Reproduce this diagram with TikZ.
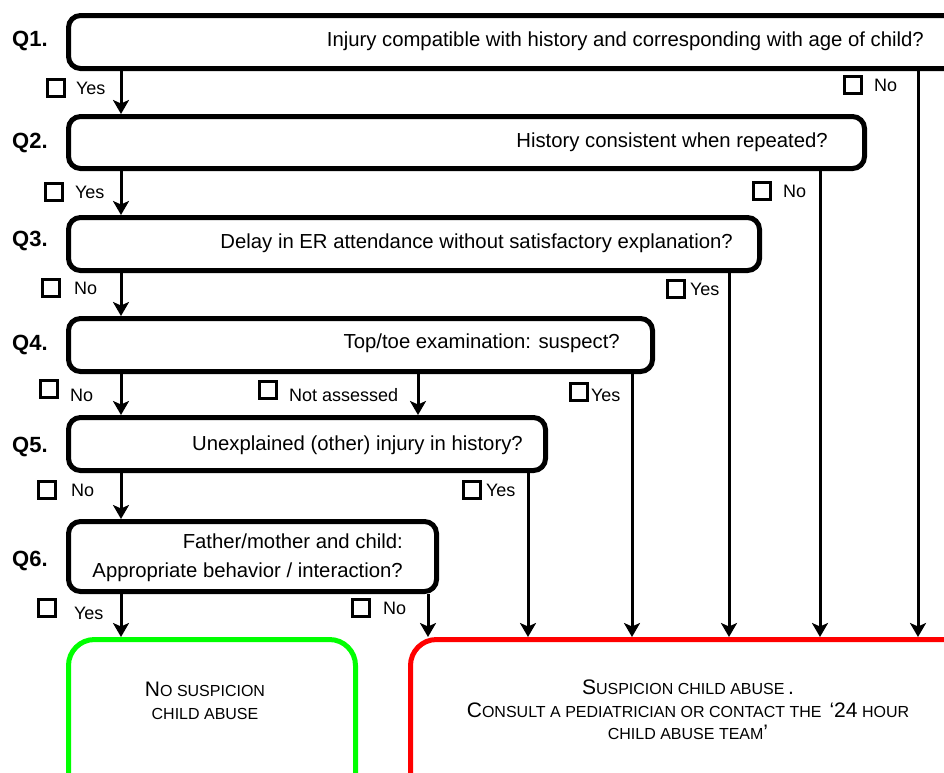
\documentclass[tikz,border=0pt]{standalone}
\usepackage{fontspec}
\setmainfont{Liberation Sans}
\usetikzlibrary{arrows.meta,positioning}
\tikzstyle{question}=[draw,line width=5pt,rounded corners=12pt,anchor=north west,inner sep=0pt]
\tikzstyle{qlabel}=[font=\fontsize{22}{24}\selectfont\bfseries,anchor=west,inner sep=0pt]
\tikzstyle{qtext}=[font=\fontsize{20.3}{29}\selectfont,anchor=east,inner sep=0pt,align=right]
\tikzstyle{check}=[draw,line width=3.2pt,minimum size=16.5pt,inner sep=0pt]
\tikzstyle{answer}=[font=\fontsize{18}{20}\selectfont,inner sep=0pt,anchor=west]
\tikzstyle{outcome}=[line width=5pt,rounded corners=26pt,anchor=north west,inner sep=0pt]
\tikzstyle{verdict}=[font=\fontsize{16}{22.5}\selectfont,align=center,inner sep=0pt]
\tikzstyle{flow}=[line width=3pt,-{Stealth[length=14pt,width=16pt,inset=3.5pt]}]
\newcommand{\capbig}[1]{{\fontsize{21}{22.5}\selectfont #1}}
\newcommand{\capsmall}[1]{{\fontsize{16}{22.5}\selectfont #1}}
\begin{document}
\begin{tikzpicture}[x=1pt,y=-1pt]
\useasboundingbox (0,0) rectangle (944,772);

% QUESTION BOXES

\node[question,minimum width=894pt,minimum height=53pt] (q1) at (66,13) {};
\node[question,minimum width=796pt,minimum height=52pt] (q2) at (66,114) {};
\node[question,minimum width=691pt,minimum height=53pt] (q3) at (66,215) {};
\node[question,minimum width=584pt,minimum height=53pt] (q4) at (66,316) {};
\node[question,minimum width=477pt,minimum height=53pt] (q5) at (66,415) {};
\node[question,minimum width=368pt,minimum height=70pt] (q6) at (66,519) {};

\node[qlabel] (lq1) at (12,41) {Q1.};
\node[qlabel] (lq2) at (12,143) {Q2.};
\node[qlabel] (lq3) at (12,241) {Q3.};
\node[qlabel] (lq4) at (12,345) {Q4.};
\node[qlabel] (lq5) at (12,447) {Q5.};
\node[qlabel] (lq6) at (12,561) {Q6.};

\node[qtext] (tq1) at (924,41) {Injury compatible with history and corresponding with age of child?};
\node[qtext] (tq2) at (828,142) {History consistent when repeated?};
\node[qtext] (tq3) at (733,243) {Delay in ER attendance without satisfactory explanation?};
\node[qtext] (tq4) at (620,343) {Top/toe examination: suspect?};
\node[qtext] (tq5) at (523,445) {Unexplained (other) injury in history?};
\node[qtext] (tq6) at (403,558) {Father/mother and child:\\Appropriate behavior / interaction?};

% OUTCOMES

\node[outcome,draw=green,minimum width=287pt,minimum height=160pt] (nosusp) at (66,637) {};
\node[outcome,draw=red,minimum width=560pt,minimum height=160pt] (susp) at (408,637) {};

\node[verdict] (tnosusp) at (205,701)
  {\capbig{N}\capsmall{O SUSPICION}\\\capsmall{CHILD ABUSE}};
\node[verdict] (tsusp) at (688,710)
  {\capbig{S}\capsmall{USPICION CHILD ABUSE}\capbig{\,.}\\
   \capbig{C}\capsmall{ONSULT A PEDIATRICIAN OR CONTACT THE} \capbig{\,`24} \capsmall{HOUR}\\
   \capsmall{CHILD ABUSE TEAM}\capbig{'}};

% ANSWERS

\node[check] (c1y) at (56,88) {};
\node[answer,right=10pt of c1y] {Yes};
\node[check] (c1n) at (853,85) {};
\node[answer,right=11pt of c1n] {No};

\node[check] (c2y) at (54,192) {};
\node[answer,right=11pt of c2y] {Yes};
\node[check] (c2n) at (762,191) {};
\node[answer,right=11pt of c2n] {No};

\node[check] (c3n) at (51,288) {};
\node[answer,right=13pt of c3n] {No};
\node[check] (c3y) at (676,289) {};
\node[answer,right=4pt of c3y] {Yes};

\node[check] (c4n) at (49,389) {};
\node[answer,right=11pt of c4n,yshift=-6pt] {No};
\node[check] (c4x) at (268,390) {};
\node[answer,right=11pt of c4x,yshift=-5pt] {Not assessed};
\node[check] (c4y) at (579,392) {};
\node[answer,right=2pt of c4y,yshift=-3pt] {Yes};

\node[check] (c5n) at (47,490) {};
\node[answer,right=14pt of c5n] {No};
\node[check] (c5y) at (472,490) {};
\node[answer,right=4pt of c5y] {Yes};

\node[check] (c6y) at (47,608) {};
\node[answer,right=17pt of c6y,yshift=-5pt] {Yes};
\node[check] (c6n) at (361,608) {};
\node[answer,right=12pt of c6n] {No};

% CONNECTIONS

\coordinate (left) at (121,0);
\coordinate (l4x) at (418,0);
\coordinate (l6n) at (428,0);
\coordinate (l5y) at (528,0);
\coordinate (l4y) at (632,0);
\coordinate (l3y) at (729,0);
\coordinate (l2n) at (820,0);
\coordinate (l1n) at (918,0);

\draw[flow] (left |- q1.south) -- (left |- q2.north);
\draw[flow] (left |- q2.south) -- (left |- q3.north);
\draw[flow] (left |- q3.south) -- (left |- q4.north);
\draw[flow] (left |- q4.south) -- (left |- q5.north);
\draw[flow] (left |- q5.south) -- (left |- q6.north);
\draw[flow] (left |- q6.south) -- (left |- nosusp.north);
\draw[flow] (l4x |- q4.south) -- (l4x |- q5.north);

\draw[flow] (l6n |- q6.south) -- (l6n |- susp.north);
\draw[flow] (l5y |- q5.south) -- (l5y |- susp.north);
\draw[flow] (l4y |- q4.south) -- (l4y |- susp.north);
\draw[flow] (l3y |- q3.south) -- (l3y |- susp.north);
\draw[flow] (l2n |- q2.south) -- (l2n |- susp.north);
\draw[flow] (l1n |- q1.south) -- (l1n |- susp.north);

\end{tikzpicture}
\end{document}
